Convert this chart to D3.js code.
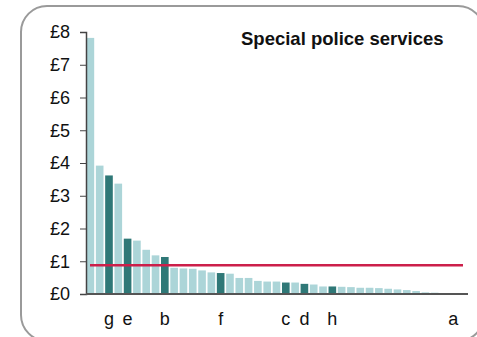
<!DOCTYPE html>
<html>
<head>
<meta charset="utf-8">
<script src="https://cdn.jsdelivr.net/npm/d3@7"></script>
<style>
  body { margin: 0; background: #fff; }
  svg { display: block; font-family: "Liberation Sans", Arial, sans-serif; }
</style>
</head>
<body>
<svg id="chart" width="477" height="337"></svg>
<script>
// cost per head, sorted descending; labelled bars are highlighted
let values = [7.82, 3.92, 3.62, 3.37, 1.69, 1.63, 1.35, 1.18, 1.13, 0.80,
              0.78, 0.77, 0.72, 0.66, 0.64, 0.62, 0.49, 0.49, 0.40, 0.38,
              0.38, 0.35, 0.35, 0.31, 0.29, 0.23, 0.23, 0.22, 0.21, 0.19,
              0.19, 0.18, 0.16, 0.14, 0.12, 0.09, 0.05, 0.04, 0, 0, 0];
let labels = ["", "", "g", "", "e", "", "", "", "b", "",
              "", "", "", "", "f", "", "", "", "", "",
              "", "c", "", "d", "", "", "h", "", "", "",
              "", "", "", "", "", "", "", "", "", "a", ""];
let average = 0.875;
let yTicks = [0, 1, 2, 3, 4, 5, 6, 7, 8];
let title = "Special police services";

let svg = d3.select("#chart");

svg.append("rect")
	.attr("x", 21).attr("y", 6)
	.attr("width", 463).attr("height", 335)
	.attr("rx", 26).attr("ry", 26)
	.attr("fill", "#fff")
	.attr("stroke", "#9a9a9a")
	.attr("stroke-width", 2);

let x = d3.scaleBand()
	.domain(d3.range(values.length))
	.range([86, 467])
	.paddingInner(0.18)
	.paddingOuter(0.06);

let y = d3.scaleLinear()
	.domain([0, 8])
	.range([294, 32]);

svg.selectAll("rect.bar")
	.data(values)
	.enter().append("rect")
	.attr("class", "bar")
	.attr("x", (d, i) => x(i))
	.attr("y", d => y(d))
	.attr("width", x.bandwidth())
	.attr("height", d => y(0) - y(d))
	.attr("fill", (d, i) => labels[i] ? "#2f7877" : "#acd5d8");

// average line
svg.append("line")
	.attr("x1", 90).attr("x2", 463)
	.attr("y1", y(average)).attr("y2", y(average))
	.attr("stroke", "#cc1f4a")
	.attr("stroke-width", 2.5);

let yAxis = svg.append("g")
	.attr("transform", "translate(86,0)")
	.call(d3.axisLeft(y).tickValues(yTicks).tickFormat(d => "£" + d).tickSize(6).tickPadding(10));
yAxis.select(".domain").attr("stroke", "#444").attr("stroke-width", 1.5);
yAxis.selectAll(".tick line").attr("stroke", "#444");
yAxis.selectAll("text")
	.attr("font-size", 18)
	.attr("font-family", "Liberation Sans, Arial, sans-serif")
	.attr("fill", "#111");

svg.append("line")
	.attr("x1", 86).attr("x2", 468)
	.attr("y1", y(0)).attr("y2", y(0))
	.attr("stroke", "#555")
	.attr("stroke-width", 2);

svg.selectAll("text.cat")
	.data(labels)
	.enter().append("text")
	.attr("class", "cat")
	.attr("x", (d, i) => x(i) + x.bandwidth() / 2)
	.attr("y", 325)
	.attr("text-anchor", "middle")
	.attr("font-size", 18)
	.attr("fill", "#111")
	.text(d => d);

svg.append("text")
	.attr("x", 241)
	.attr("y", 45)
	.attr("font-size", 18.5)
	.attr("font-weight", "bold")
	.attr("fill", "#111")
	.text(title);
</script>
</body>
</html>
